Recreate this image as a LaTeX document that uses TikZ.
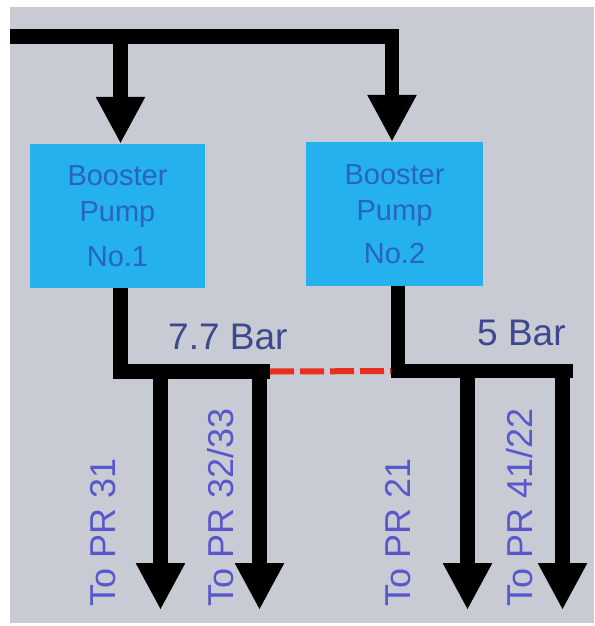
\documentclass[tikz,border=0pt]{standalone}
\usepackage{fontspec}
\setmainfont{Liberation Sans}
\usetikzlibrary{arrows.meta}
\definecolor{bg}{RGB}{201,203,212}
\definecolor{pumpfill}{RGB}{36,177,238}
\definecolor{pumptext}{RGB}{40,100,192}
\definecolor{bartext}{RGB}{62,72,142}
\definecolor{prtext}{RGB}{88,88,204}
\definecolor{dashred}{RGB}{232,46,30}
\begin{document}
\begin{tikzpicture}[x=1pt,y=-1pt,
  pipe/.style={line width=14.5pt, line join=miter, line cap=butt, black},
  flow/.style={pipe, -{Triangle[width=46pt 0 0, length=47pt 0 0]}},
  pump/.style={fill=pumpfill, draw=none, inner sep=0pt, align=center,
    text=pumptext, font=\fontsize{29}{36}\selectfont},
  barlabel/.style={anchor=base west, inner sep=0pt, text=bartext,
    font=\fontsize{37}{40}\selectfont},
  prlabel/.style={rotate=90, anchor=base west, inner sep=0pt, text=prtext,
    font=\fontsize{36}{40}\selectfont}]
\useasboundingbox (0,0) rectangle (594,626);
\fill[white] (0,0) rectangle (594,626);
\fill[bg] (10,7) rectangle (594,623);

% pumps
\node[pump, minimum width=175pt, minimum height=144pt] (b1) at (117.5,216)
  {Booster\\Pump\\[8.5pt]No.1};
\node[pump, minimum width=177pt, minimum height=144pt] (b2) at (394.5,214)
  {Booster\\Pump\\[7pt]No.2};

% coordinates
\coordinate (src) at (10,36.5);
\coordinate (j1) at (120.5,36.5);
\coordinate (j2) at (392,36.5);
\coordinate (o1) at (120.5,371.5);
\coordinate (e1) at (270,371.5);
\coordinate (o2) at (398,371);
\coordinate (e2) at (573,371);
\coordinate (d1) at (160.5,371.5);
\coordinate (d2) at (259.5,371.5);
\coordinate (d3) at (467.5,371);
\coordinate (d4) at (562.5,371);
\coordinate (t1) at (160.5,610);
\coordinate (t2) at (259.5,610);
\coordinate (t3) at (467.5,610);
\coordinate (t4) at (562.5,610);

% supply
\draw[flow] (src) -- (j2) -- (j2 |- b2.north);
\draw[flow] (j1) -- (j1 |- b1.north);

% cross-connection
\draw[dashred, line width=6pt, dash pattern=on 24pt off 6pt] (e1) -- (o2);

% outlets
\draw[pipe] (o1 |- b1.south) -- (o1) -- (e1);
\draw[pipe] (o2 |- b2.south) -- (o2) -- (e2);
\draw[flow] (d1) -- (t1);
\draw[flow] (d2) -- (t2);
\draw[flow] (d3) -- (t3);
\draw[flow] (d4) -- (t4);

% labels
\node[barlabel] (p1) at (168,349) {7.7 Bar};
\node[barlabel] (p2) at (477,345) {5 Bar};
\node[prlabel] (l1) at (115,607) {To PR 31};
\node[prlabel] (l2) at (233,607) {To PR 32/33};
\node[prlabel] (l3) at (410,607) {To PR 21};
\node[prlabel] (l4) at (532,607) {To PR 41/22};
\end{tikzpicture}
\end{document}
